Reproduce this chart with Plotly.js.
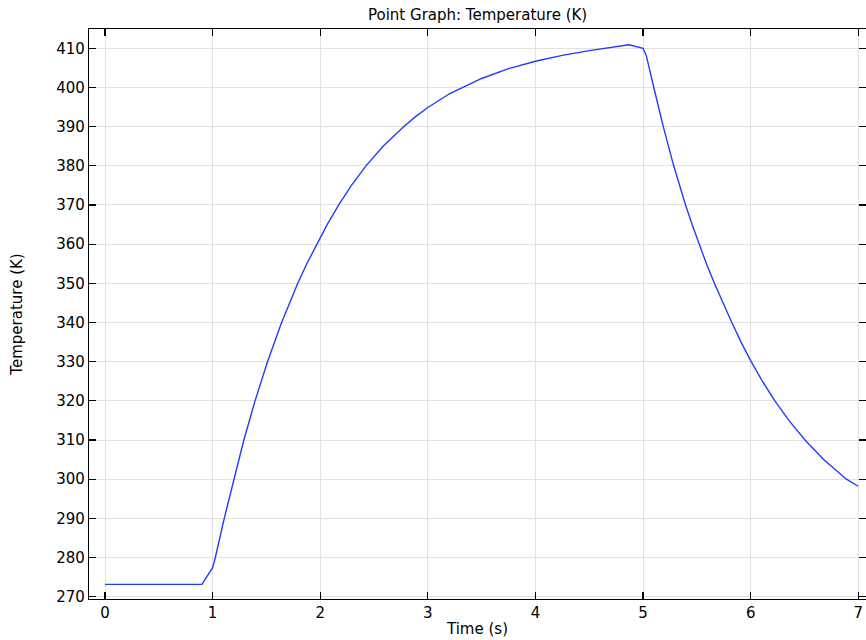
<!DOCTYPE html>
<html>
<head>
<meta charset="utf-8">
<script src="https://cdn.plot.ly/plotly-3.0.1.min.js"></script>
<style>html,body{margin:0;padding:0;background:#fff;overflow:hidden}#chart{width:866px;height:640px}</style>
</head>
<body>
<div id="chart"></div>
<script>
// Time (s)
const timeS = [0, 0.9, 1.0, 1.025, 1.108, 1.196, 1.29, 1.394, 1.51, 1.641, 1.791, 1.875, 1.966, 2.064, 2.172, 2.29, 2.425, 2.584, 2.775, 2.883, 3.0, 3.2, 3.5, 3.75, 4.0, 4.25, 4.5, 4.7, 4.87, 5.0, 5.03, 5.1, 5.188, 5.285, 5.339, 5.395, 5.456, 5.52, 5.589, 5.663, 5.741, 5.825, 5.911, 6.005, 6.109, 6.225, 6.355, 6.505, 6.678, 6.89, 7.0];
// Temperature (K)
const tempK = [273.15, 273.15, 277.4, 280, 290, 300, 310, 320, 330, 340, 350, 355, 360, 365, 370, 375, 380, 385, 390, 392.5, 394.9, 398.4, 402.3, 404.8, 406.7, 408.2, 409.4, 410.3, 410.9, 410.0, 408.2, 400, 390, 380, 375, 370, 365, 360, 355, 350, 345, 340, 335, 330, 325, 320, 315, 310, 305, 300, 298.2];
const xTicks = [0, 1, 2, 3, 4, 5, 6, 7];
const yTicks = [270, 280, 290, 300, 310, 320, 330, 340, 350, 360, 370, 380, 390, 400, 410];

const font = {family: 'DejaVu Sans, sans-serif', size: 15, color: '#000'};
const axisCommon = {
  showline: true, linecolor: '#000', linewidth: 1.2, mirror: 'allticks',
  ticks: 'inside', ticklen: 7, tickwidth: 1.3, tickcolor: '#000',
  showgrid: true, gridcolor: '#e1e1e1', gridwidth: 1, zeroline: false,
  tickfont: font, automargin: false
};
Plotly.newPlot('chart', [{
  x: timeS, y: tempK, type: 'scatter', mode: 'lines',
  line: {color: '#1f3cff', width: 1.4, shape: 'linear'},
  hoverinfo: 'none'
}], {
  width: 866, height: 640,
  margin: {l: 89, r: 0, t: 29, b: 41, pad: 0},
  paper_bgcolor: '#fff', plot_bgcolor: '#fff',
  showlegend: false, font: font,
  title: {text: 'Point Graph: Temperature (K)', font: font, x: 0.5515, xanchor: 'center', y: 0.977, yanchor: 'middle'},
  xaxis: Object.assign({}, axisCommon, {
    range: [-0.149, 7.072], tickvals: xTicks, ticktext: xTicks.map(String),
    title: {text: 'Time (s)', font: font, standoff: 2}
  }),
  yaxis: Object.assign({}, axisCommon, {
    range: [269.41, 414.93], tickvals: yTicks, ticktext: yTicks.map(String),
    title: {text: 'Temperature (K)', font: font, standoff: 30}
  })
}, {displayModeBar: false, staticPlot: true});
</script>
</body>
</html>
